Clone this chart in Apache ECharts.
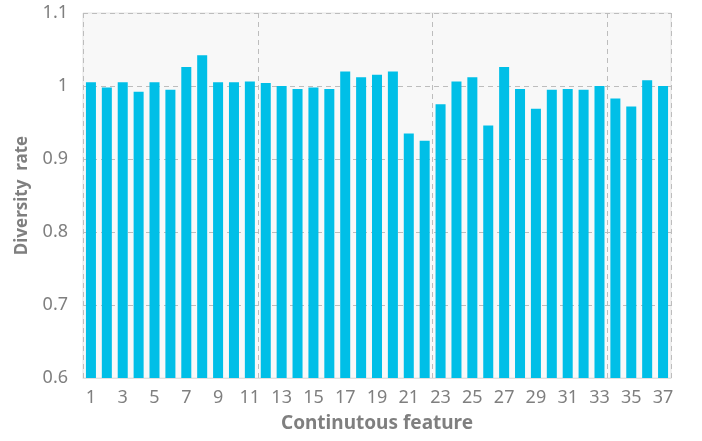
<!DOCTYPE html>
<html lang="en">
<head>
    <meta charset="UTF-8">
    <title>Diversity rate</title>
    <script src="https://cdn.jsdelivr.net/npm/echarts@6/dist/echarts.min.js"></script>
</head>
<body style="margin:0">
<div id="chart" style="width: 702px;height:441px;"></div>
<script>
    // data
    var features = [];
    for (var i = 1; i <= 37; i++) {
        features.push(String(i));
    }
    var rates = [
        1.005, 0.998, 1.005, 0.992, 1.005, 0.995, 1.026, 1.042, 1.005, 1.005, 1.006,
        1.004, 1.000, 0.996, 0.998, 0.996, 1.020, 1.012, 1.0155, 1.020, 0.935, 0.925,
        0.975, 1.006, 1.012, 0.946, 1.026, 0.996, 0.969, 0.995, 0.996, 0.995, 1.000,
        0.983, 0.972, 1.008, 1.000
    ];

    var textColor = '#7f7f7f';
    var myChart = echarts.init(document.getElementById('chart'));
    var option = {
        animation: false,
        grid: {
            left: 83,
            right: 31,
            top: 13,
            bottom: 63,
            show: true,
            backgroundColor: '#f8f8f8',
            borderColor: '#e4e4e4',
            borderWidth: 1
        },
        xAxis: {
            type: 'category',
            data: features,
            name: 'Continutous feature',
            nameLocation: 'middle',
            nameGap: 36,
            nameTextStyle: {
                color: textColor,
                fontSize: 19,
                fontWeight: 'bold',
                fontFamily: 'Noto Sans'
            },
            axisLine: { lineStyle: { color: '#e0e0e0' } },
            axisTick: { show: false },
            axisLabel: {
                interval: 1,
                margin: 11,
                color: textColor,
                fontSize: 18,
                fontFamily: 'Noto Sans'
            },
            splitLine: {
                show: true,
                interval: function (index) {
                    return index % 11 === 0;
                },
                lineStyle: { color: '#bdbdbd', type: [5, 4] }
            }
        },
        yAxis: {
            type: 'value',
            min: 0.6,
            max: 1.1,
            interval: 0.1,
            name: 'Diversity  rate',
            nameLocation: 'middle',
            nameGap: 52,
            nameTextStyle: {
                color: textColor,
                fontSize: 17,
                fontWeight: 'bold',
                fontFamily: 'Noto Sans'
            },
            axisLine: { show: false },
            axisTick: { show: false },
            axisLabel: {
                margin: 15,
                color: textColor,
                fontSize: 18,
                fontFamily: 'Noto Sans'
            },
            splitLine: {
                lineStyle: { color: '#bdbdbd', type: [5, 4] }
            }
        },
        series: [
            {
                type: 'bar',
                data: rates,
                barWidth: '63%',
                itemStyle: { color: '#00bfe7' }
            }
        ]
    };
    myChart.setOption(option);
</script>
</body>
</html>
